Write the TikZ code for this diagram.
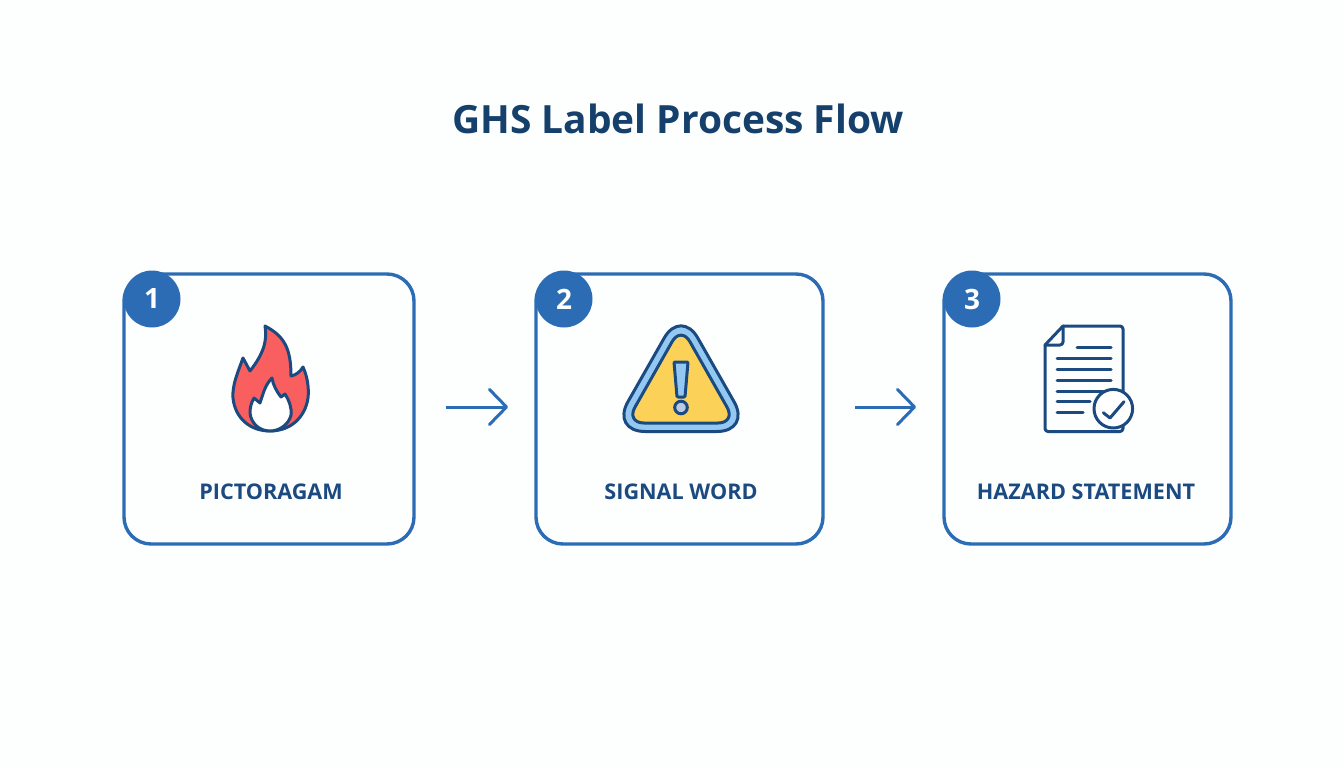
\documentclass[tikz,border=0pt]{standalone}
\usepackage{fontspec}
\setmainfont{Open Sans}
\usetikzlibrary{positioning,arrows.meta}
\definecolor{pagewhite}{HTML}{FDFEFE}
\definecolor{flowblue}{HTML}{2B6CB5}
\definecolor{navy}{HTML}{1A4A80}
\definecolor{titleblue}{HTML}{16406C}
\definecolor{flamered}{HTML}{FA5F60}
\definecolor{signyellow}{HTML}{FBD257}
\definecolor{signblue}{HTML}{93C8F2}
\definecolor{dotgrey}{HTML}{BCCBE2}
\begin{document}
\begin{tikzpicture}[x=1pt, y=-1pt]

% Set the overall layout of the picture
\tikzstyle{card} = [draw=flowblue, line width=3.4pt, rounded corners=27pt, outer sep=0pt, minimum height=270pt, anchor=center]
\tikzstyle{badge} = [circle, fill=flowblue, text=white, minimum size=57pt, inner sep=0pt, font=\fontsize{28}{30}\selectfont\bfseries]
\tikzstyle{steplabel} = [text=navy, font=\fontsize{21.6}{25}\selectfont\bfseries]
\tikzstyle{flow} = [draw=flowblue, line width=3pt, -{Straight Barb[length=17pt,width=35pt,line width=3pt,round]}, shorten <=32pt, shorten >=28pt]

% Define styles for the icons
\tikzstyle{icon} = [draw=navy, line width=3pt, line join=round, line cap=round]

\fill[pagewhite] (0,0) rectangle (1344,768);
\useasboundingbox (0,0) rectangle (1344,768);

\node[text=titleblue, font=\fontsize{38.9}{44}\selectfont\bfseries] (title) at (678,119) {GHS Label Process Flow};

% The three cards
\node[card, minimum width=290pt] (card1) at (269,409) {};
\node[card, minimum width=287pt, right=122pt of card1] (card2) {};
\node[card, minimum width=287pt, right=121pt of card2] (card3) {};

\node[badge] (badge1) at (152,299) {1};
\node[badge] (badge2) at (564,299) {2};
\node[badge] (badge3) at (972,299) {3};

\node[steplabel] (label1) at (271,492) {PICTORAGAM};
\node[steplabel] (label2) at (681,492) {SIGNAL WORD};
\node[steplabel] (label3) at (1086,492) {HAZARD STATEMENT};

\draw[flow] ([yshift=2pt]card1.east) -- ([yshift=2pt]card2.west);
\draw[flow] ([yshift=2pt]card2.east) -- ([yshift=2pt]card3.west);

% Flame
\draw[icon, fill=flamered] (265,326)
    .. controls (284,336) and (291,348) .. (291,376)
    .. controls (296,375) and (300,372) .. (303,367)
    .. controls (308,378) and (309,390) .. (308,398)
    .. controls (305,418) and (290,431) .. (270,431)
    .. controls (250,431) and (235,418) .. (233,398)
    .. controls (232,385) and (238,372) .. (243,358)
    -- (250,371)
    .. controls (260,358) and (268,345) .. (265,326) -- cycle;
\draw[icon, fill=white] (272,378)
    .. controls (273,385) and (277,392) .. (281,397)
    -- (285,394)
    .. controls (289,400) and (292,408) .. (291,415)
    .. controls (289,424) and (280,431) .. (270,431)
    .. controls (259,431) and (251,423) .. (250,413)
    .. controls (250,408) and (251,403) .. (254,398)
    -- (260,403)
    .. controls (263,394) and (265,385) .. (272,378) -- cycle;

% Warning sign
\draw[icon, fill=signblue, rounded corners=34pt] (681,308.5) -- (751,431.5) -- (611,431.5) -- cycle;
\draw[icon, fill=signyellow, rounded corners=18pt] (681,326) -- (736,423) -- (626,423) -- cycle;
\draw[icon, fill=signblue, rounded corners=1pt] (674,362) -- (688,362) -- (685,397) -- (677,397) -- cycle;
\draw[icon, fill=dotgrey] (681,407.5) circle (6.3pt);

% Document with tick
\draw[icon, rounded corners=3pt] (1063,326) -- (1123,326) -- (1123,431.5) -- (1045,431.5) -- (1045,345);
\draw[icon] (1063,326) -- (1045,345);
\draw[icon, rounded corners=3pt] (1063,326) -- (1063,345) -- (1045,345);
\foreach \liney/\lineleft/\lineright in {347.7/1077/1111, 358.7/1057/1111, 369.3/1057/1111, 380/1057/1111, 391/1057/1103, 401.7/1057/1090, 412.7/1057/1083}
    \draw[icon] (\lineleft,\liney) -- (\lineright,\liney);
\draw[icon, fill=white] (1113.3,408.7) circle (19.3pt);
\draw[icon] (1103.3,412.7) -- (1110,418) -- (1124,401.7);

\end{tikzpicture}
\end{document}
